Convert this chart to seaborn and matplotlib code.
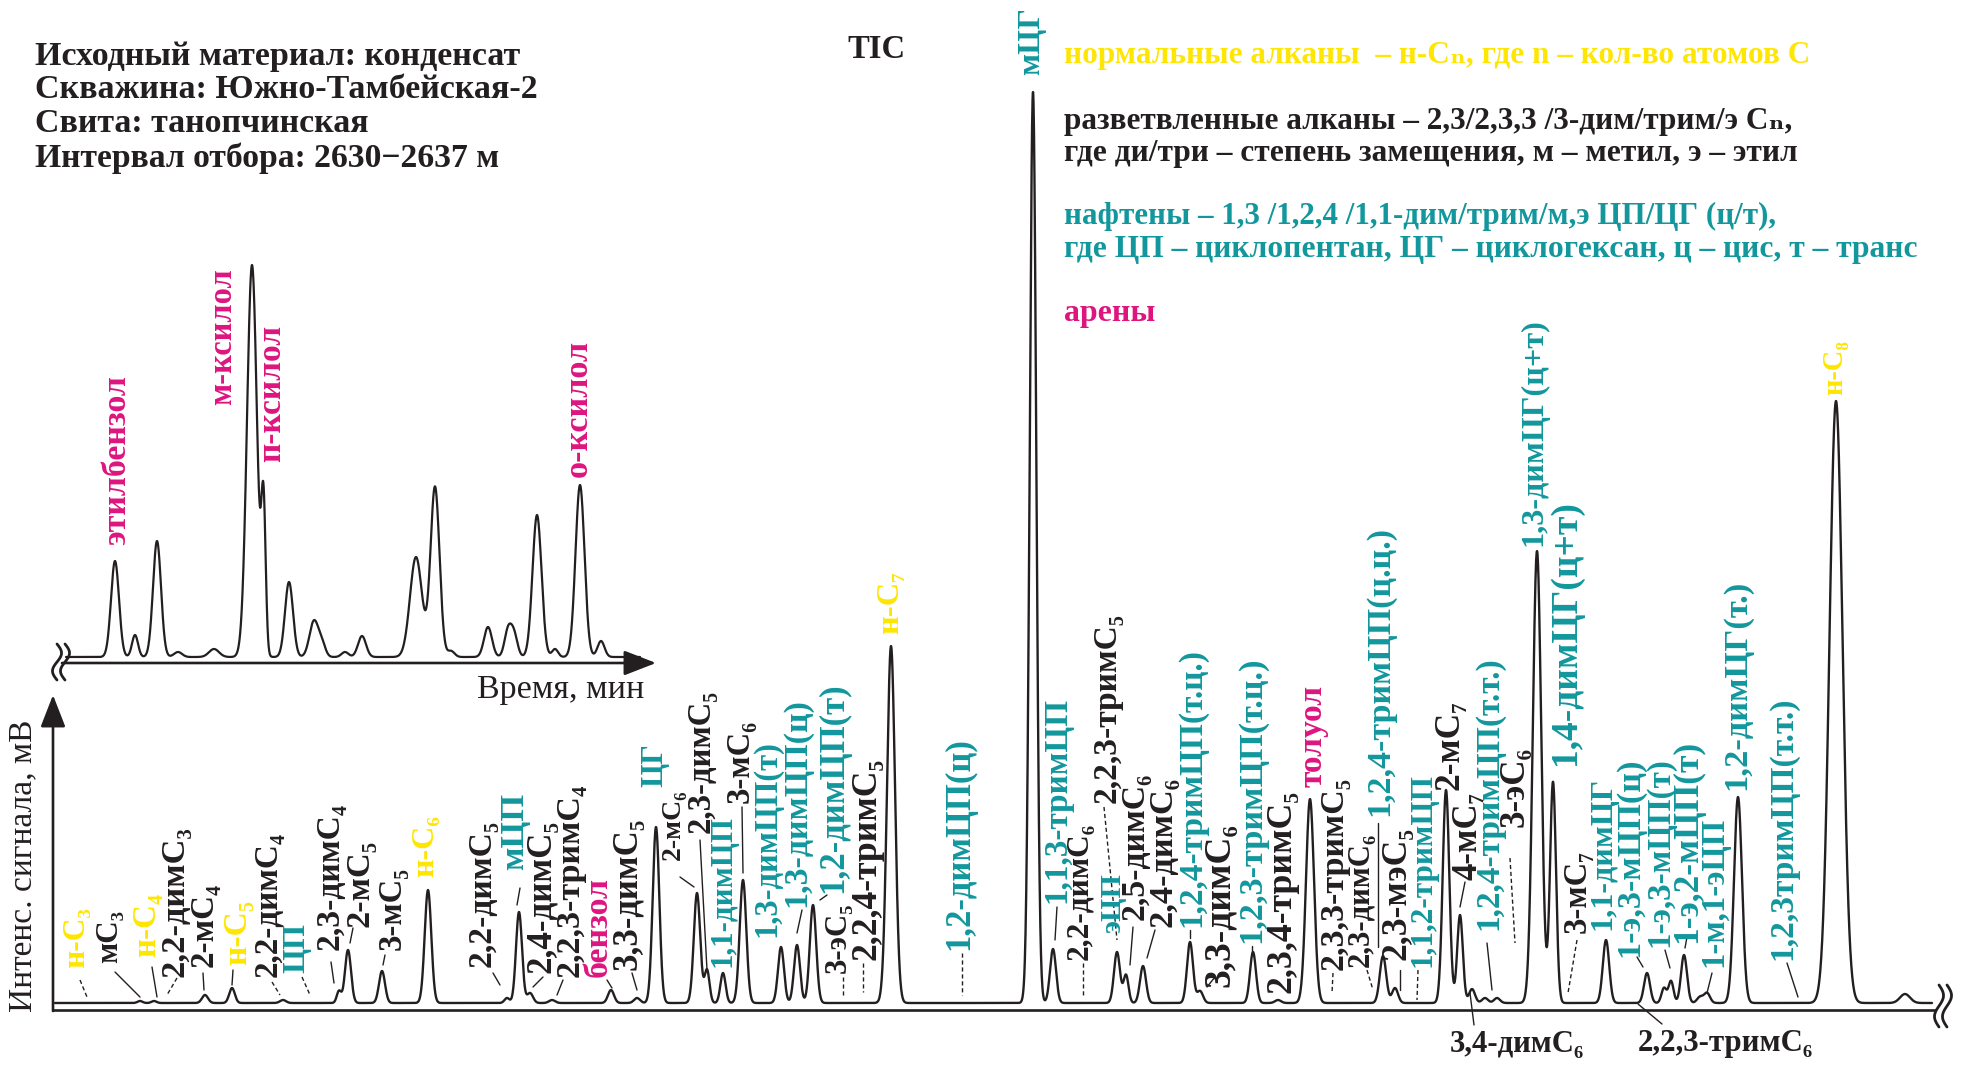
import numpy as np
import pandas as pd
import matplotlib
matplotlib.use("Agg")
import matplotlib.pyplot as plt
import seaborn as sns

sns.set_theme(style="white")
plt.rcParams["font.family"] = ["Liberation Serif", "DejaVu Serif"]

W, H = 1968, 1066
BASE_MAIN = 1003      # pixel row of the TIC baseline
BASE_INSET = 657      # pixel row of the inset baseline

# ---------------- data: main TIC peaks (retention position, height, width) ----
main_rt = [140, 154, 205, 232, 283, 339, 348, 382, 428, 507, 519, 530, 552, 611, 637,
           656, 697, 707, 723, 743, 781, 797, 813, 891, 1033, 1053, 1117, 1126, 1143,
           1190, 1200, 1253, 1278, 1310, 1383, 1395, 1446, 1460, 1472, 1485, 1497,
           1537, 1553, 1606, 1647, 1664, 1671, 1684, 1700, 1707, 1738, 1836, 1905]
main_height = [2, 2, 8, 15, 3, 12, 53, 32, 113, 5, 91, 10, 3, 13, 5,
               176, 110, 33, 30, 123, 56, 58, 98, 357, 911, 54, 51, 28, 37,
               61, 12, 51, 3, 204, 47, 15, 213, 88, 14, 5, 5,
               452, 221, 63, 30, 15, 22, 48, 6, 10, 206, 602, 9]
main_width = [2.5, 2.5, 3, 2.8, 3, 2.2, 3, 3, 3.3, 2.5, 3, 3, 3, 3, 3,
              3.3, 3.2, 2.5, 2.6, 3.3, 3, 3, 3.2, 4, 3.3, 3, 3, 2.5, 3,
              3, 3, 3, 3, 4, 3.2, 3, 3.3, 2.8, 3, 3, 3,
              4.2, 3, 3.2, 3, 2.5, 2.5, 3, 3, 3, 4, 6.5, 5]

# ---------------- data: inset (arenes) peaks --------------------------------
inset_rt = [115, 135, 157, 178, 214, 252, 263.5, 289, 314, 322, 345, 362, 416, 435,
            451, 488, 508, 514, 537, 555, 580, 601]
inset_height = [96, 22, 116, 5, 8, 392, 145, 75, 36, 12, 5, 21, 100, 170,
                6, 30, 26, 22, 142, 8, 172, 16]
inset_width = [4, 3, 4, 4, 5, 5, 2.2, 4, 4.5, 3.5, 3.5, 4, 6, 4.5,
               3.5, 4, 3.5, 3.5, 4.5, 3, 4.5, 3.5]

# ---------------- colours ----------------------------------------------------
YEL, TEAL, MAG, BLK = "#FFE600", "#12979D", "#DE157F", "#231F20"

# ---------------- peak labels: text, colour, x, top, bottom -----------------
peak_labels = [
    ("н-C₃", YEL, 77, 907, 968), ("мC₃", BLK, 110, 910, 963),
    ("н-C₄", YEL, 147, 893, 957), ("2,2-димC₃", BLK, 175, 827, 977),
    ("2-мC₄", BLK, 204, 883, 967), ("н-C₅", YEL, 238, 900, 965),
    ("2,2-димC₄", BLK, 268, 832, 977), ("ЦП", TEAL, 297, 923, 973),
    ("2,3-димC₄", BLK, 330, 803, 950), ("2-мC₅", BLK, 360, 840, 927),
    ("3-мC₅", BLK, 392, 867, 950), ("н-C₆", YEL, 426, 815, 877),
    ("2,2-димC₅", BLK, 482, 820, 967), ("мЦП", TEAL, 515, 793, 870),
    ("2,4-димC₅", BLK, 542, 820, 973), ("2,2,3-тримC₄", BLK, 570, 783, 977),
    ("бензол", MAG, 598, 877, 977), ("3,3-димC₅", BLK, 628, 818, 970),
    ("ЦГ", TEAL, 655, 743, 787), ("2-мC₆", BLK, 673, 790, 860),
    ("2,3-димC₅", BLK, 701, 690, 833), ("1,1-димЦП", TEAL, 723, 815, 967),
    ("3-мC₆", BLK, 740, 720, 803), ("1,3-димЦП(т)", TEAL, 767, 740, 937),
    ("1,3-димЦП(ц)", TEAL, 797, 698, 907), ("1,2-димЦП(т)", TEAL, 834, 682, 893),
    ("3-эC₅", BLK, 838, 903, 973), ("2,2,4-тримC₅", BLK, 867, 758, 960),
    ("н-C₇", YEL, 891, 571, 634), ("1,2-димЦП(ц)", TEAL, 960, 737, 950),
    ("мЦГ", TEAL, 1032, 7, 75), ("1,1,3-тримЦП", TEAL, 1057, 697, 903),
    ("2,2-димC₆", BLK, 1080, 823, 960), ("эЦП", TEAL, 1113, 873, 933),
    ("2,2,3-тримC₅", BLK, 1107, 613, 803), ("2,5-димC₆", BLK, 1135, 773, 920),
    ("2,4-димC₆", BLK, 1163, 777, 927), ("1,2,4-тримЦП(т.ц.)", TEAL, 1192, 647, 927),
    ("3,3-димC₆", BLK, 1220, 823, 987), ("1,2,3-тримЦП(т.ц.)", TEAL, 1252, 657, 943),
    ("2,3,4-тримC₅", BLK, 1282, 790, 993), ("толуол", MAG, 1313, 685, 787),
    ("2,3,3-тримC₅", BLK, 1334, 777, 970), ("2,3-димC₆", BLK, 1361, 833, 967),
    ("1,2,4-тримЦП(ц.ц.)", TEAL, 1380, 527, 816), ("2,3-мэC₅", BLK, 1397, 827, 960),
    ("1,1,2-тримЦП", TEAL, 1423, 773, 967), ("2-мC₇", BLK, 1450, 700, 790),
    ("4-мC₇", BLK, 1468, 792, 880), ("1,2,4-тримЦП(т.т.)", TEAL, 1489, 657, 930),
    ("3-эC₆", BLK, 1515, 747, 827), ("1,3-димЦГ(ц+т)", TEAL, 1534, 318, 546),
    ("1,4-димЦГ(ц+т)", TEAL, 1566, 500, 765), ("3-мC₇", BLK, 1577, 850, 933),
    ("1,1-димЦГ", TEAL, 1603, 777, 930), ("1-э,3-мЦП(ц)", TEAL, 1630, 758, 957),
    ("1-э,3-мЦП(т)", TEAL, 1660, 757, 947), ("1-э,2-мЦП(т)", TEAL, 1688, 740, 943),
    ("1-м,1-эЦП", TEAL, 1714, 817, 967), ("1,2-димЦГ(т.)", TEAL, 1737, 580, 790),
    ("1,2,3тримЦП(т.т.)", TEAL, 1783, 697, 960), ("н-C₈", YEL, 1835, 340, 395),
]
inset_labels = [
    ("этилбензол", MAG, 117, 375, 545), ("м-ксилол", MAG, 223, 268, 405),
    ("п-ксилол", MAG, 272, 325, 462), ("о-ксилол", MAG, 578, 340, 477),
]
bottom_labels = [("3,4-димC₆", 1450, 1584, 1044), ("2,2,3-тримC₆", 1638, 1813, 1044)]

# leader lines: x0, y0, x1, y1, dashed?
leaders = [
    (80, 980, 87, 997, 1), (115, 972, 140, 997, 0), (152, 967, 157, 997, 0),
    (177, 978, 167, 995, 1), (203, 973, 204, 990, 0), (233, 970, 232, 985, 0),
    (272, 982, 280, 995, 1), (302, 977, 310, 995, 1), (331, 962, 334, 983, 0),
    (353, 928, 350, 943, 0), (385, 955, 383, 965, 0), (493, 973, 500, 985, 0),
    (520, 888, 517, 905, 0), (543, 977, 533, 987, 0), (563, 980, 557, 995, 0),
    (607, 980, 612, 988, 0), (632, 973, 637, 990, 0), (680, 877, 694, 887, 0),
    (700, 840, 707, 970, 0), (742, 807, 743, 873, 0), (802, 910, 797, 933, 0),
    (827, 895, 820, 900, 0), (843, 977, 843, 997, 1), (863, 963, 863, 992, 1),
    (962, 953, 962, 995, 1), (1057, 907, 1055, 940, 0), (1083, 963, 1083, 997, 1),
    (1104, 807, 1117, 940, 1), (1133, 927, 1130, 965, 0), (1155, 930, 1147, 958, 0),
    (1190, 930, 1190, 938, 0), (1207, 987, 1215, 977, 0), (1252, 946, 1252, 952, 0),
    (1333, 973, 1332, 993, 1), (1367, 970, 1373, 990, 1), (1378, 823, 1378, 947, 0),
    (1400, 970, 1400, 990, 0), (1418, 970, 1417, 1000, 1), (1465, 882, 1460, 907, 0),
    (1487, 943, 1492, 990, 0), (1510, 858, 1515, 943, 1), (1577, 940, 1568, 993, 1),
    (1637, 957, 1643, 967, 0), (1665, 950, 1670, 968, 0), (1687, 937, 1685, 948, 0),
    (1712, 973, 1707, 993, 0), (1787, 963, 1798, 997, 0),
    (1470, 993, 1474, 1025, 0), (1638, 1004, 1662, 1024, 0),
]

header_lines = ["Исходный материал: конденсат", "Скважина: Южно-Тамбейская-2",
                "Свита: танопчинская", "Интервал отбора: 2630−2637 м"]
header_widths = [486, 502, 333, 465]
header_rows = [56, 90, 124, 158]

legend_lines = [
    ("нормальные алканы  – н-Cₙ, где n – кол-во атомов С", YEL, 56, 746),
    ("разветвленные алканы – 2,3/2,3,3 /3-дим/трим/э Cₙ,", BLK, 122, 727),
    ("где ди/три – степень замещения, м – метил, э – этил", BLK, 153, 733),
    ("нафтены – 1,3 /1,2,4 /1,1-дим/трим/м,э ЦП/ЦГ (ц/т),", TEAL, 216, 712),
    ("где ЦП – циклопентан, ЦГ – циклогексан, ц – цис, т – транс", TEAL, 249, 853),
    ("арены", MAG, 314, 91),
]


def chromatogram(x, rt, height, width):
    y = np.zeros_like(x)
    for r, h, s in zip(rt, height, width):
        y += h * np.exp(-0.5 * ((x - r) / s) ** 2)
    return y


x_main = np.linspace(55, 1932, 8000)
df_main = pd.DataFrame({"t": x_main,
                        "signal": chromatogram(x_main, main_rt, main_height, main_width)})
x_ins = np.linspace(66, 640, 3000)
df_ins = pd.DataFrame({"t": x_ins,
                       "signal": chromatogram(x_ins, inset_rt, inset_height, inset_width)})

fig = plt.figure(figsize=(W / 100, H / 100), dpi=100)
fig.patch.set_facecolor("white")

ax = fig.add_axes([0, 0, 1, 1])
ax.set_xlim(0, W)
ax.set_ylim(BASE_MAIN - H, BASE_MAIN)
ax.axis("off")
sns.lineplot(data=df_main, x="t", y="signal", ax=ax, color=BLK, lw=1.7,
             estimator=None, sort=False)

axi = fig.add_axes([0, 0, 1, 1])
axi.set_xlim(0, W)
axi.set_ylim(BASE_INSET - H, BASE_INSET)
axi.axis("off")
axi.patch.set_alpha(0)
sns.lineplot(data=df_ins, x="t", y="signal", ax=axi, color=BLK, lw=1.6,
             estimator=None, sort=False)

ov = fig.add_axes([0, 0, 1, 1])
ov.set_xlim(0, W)
ov.set_ylim(H, 0)
ov.axis("off")
ov.patch.set_alpha(0)

# axes lines
ov.plot([53, 1936], [1010, 1010], color=BLK, lw=1.9, solid_capstyle="butt")
ov.annotate("", xy=(53, 695), xytext=(53, 1011),
            arrowprops=dict(arrowstyle="-|>,head_length=0.9,head_width=0.35",
                            color=BLK, lw=1.9, mutation_scale=22, shrinkA=0, shrinkB=0))
ov.annotate("", xy=(656, 663), xytext=(62, 663),
            arrowprops=dict(arrowstyle="-|>,head_length=0.9,head_width=0.35",
                            color=BLK, lw=1.9, mutation_scale=22, shrinkA=0, shrinkB=0))


def axis_break(xc, yc, half=21):
    t = np.linspace(-1, 1, 60)
    for dx in (-4, 4):
        ov.plot(xc + dx + 4.5 * np.sin(np.pi * t) * -1, yc + half * t,
                color=BLK, lw=2.0)


axis_break(1943, 1006)
axis_break(61, 662, half=18)

fits = []


def vlabel(s, c, x, y0, y1, weight="bold"):
    t = ov.text(x, y1, s, rotation=90, ha="center", va="bottom", color=c,
                fontsize=20, fontweight=weight)
    fits.append((t, y1 - y0, "v"))


for s, c, x, y0, y1 in peak_labels + inset_labels:
    vlabel(s, c, x, y0, y1)

for s, x0, x1, yc in bottom_labels:
    t = ov.text(x0, yc, s, ha="left", va="center", color=BLK, fontsize=20,
                fontweight="bold")
    fits.append((t, x1 - x0, "h"))

for (x0, y0, x1, y1, dashed) in leaders:
    ov.plot([x0, x1], [y0, y1], color=BLK, lw=1.0,
            linestyle=(0, (3, 2)) if dashed else "-")

for s, yc, wdt in zip(header_lines, header_rows, header_widths):
    t = ov.text(35, yc, s, ha="left", va="center", color=BLK, fontsize=22,
                fontweight="bold")
    fits.append((t, wdt, "h"))

for s, c, yc, wdt in legend_lines:
    t = ov.text(1064, yc, s, ha="left", va="center", color=c, fontsize=20,
                fontweight="bold")
    fits.append((t, wdt, "h"))

t = ov.text(876, 50, "TIC", ha="center", va="center", color=BLK, fontsize=22,
            fontweight="bold")
fits.append((t, 58, "h"))

t = ov.text(644, 690, "Время, мин", ha="right", va="center", color=BLK, fontsize=22)
fits.append((t, 167, "h"))
t = ov.text(23, 1012, "Интенс. сигнала, мВ", rotation=90, ha="center", va="bottom",
            color=BLK, fontsize=22)
fits.append((t, 292, "v"))

fig.canvas.draw()
renderer = fig.canvas.get_renderer()
for _ in range(2):
    for t, L, d in fits:
        bb = t.get_window_extent(renderer)
        cur = bb.height if d == "v" else bb.width
        if cur > 0:
            t.set_fontsize(t.get_fontsize() * L / cur)
    fig.canvas.draw()

fig.savefig("out.png", dpi=100, facecolor="white")
